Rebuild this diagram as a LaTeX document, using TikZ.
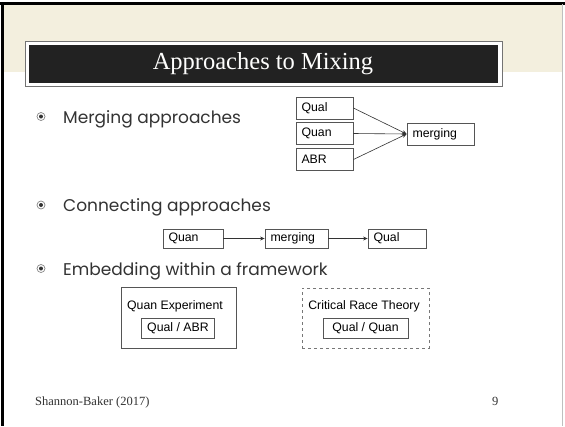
\documentclass[tikz,border=0pt]{standalone}
\usepackage{fontspec}
\setmainfont{Liberation Serif}
\newfontfamily\boxfont{Liberation Sans}
\newfontfamily\bulletfont{Poppins}
\usetikzlibrary{arrows.meta}
\definecolor{cream}{HTML}{F3EFDE}
\definecolor{titledark}{HTML}{222222}
\definecolor{boxline}{HTML}{555555}
\definecolor{bodytext}{HTML}{333333}
\tikzset{
  sbox/.style={draw=boxline, line width=0.8pt, minimum height=#1, inner xsep=5.5pt, inner ysep=0pt, font=\boxfont\fontsize{12.3}{14}\selectfont},
  sbox/.default=22pt,
  conn/.style={draw=black!80, line width=0.6pt, -{Stealth[length=4.5pt,width=4pt]}},
  bullettext/.style={anchor=base west, inner sep=0pt, text=bodytext, font=\bulletfont\fontsize{17}{20}\selectfont},
  bulletmark/.style={circle, draw=bodytext!60, line width=0.7pt, minimum size=8pt, inner sep=0pt},
  bulletdot/.style={circle, fill=bodytext, minimum size=4pt, inner sep=0pt},
  footer/.style={anchor=base west, inner sep=0pt, text=bodytext, font=\fontsize{12.5}{14}\selectfont}
}
\begin{document}
\begin{tikzpicture}[x=1pt,y=-1pt]
\useasboundingbox (0,0) rectangle (565,426);
% slide background
\fill[white] (0,0) rectangle (565,426);
\fill[cream] (3,4) rectangle (563,72);
\fill[black] (0,2) rectangle (565,4.5);
\fill[black] (1,2) rectangle (3.5,426);
\draw[gray!50, line width=0.8pt] (562.5,4) -- (562.5,426);
% title
\draw[gray!90!black, line width=1pt, fill=white] (25.5,41.5) rectangle (502,86);
\fill[titledark] (29,45) rectangle (497.5,83);
\node[text=white!95!cream, font=\fontsize{24.5}{27}\selectfont, inner sep=0pt] (title) at (263,63.5) {Approaches to Mixing};
% bullets
\node[bulletmark] (b1) at (41,116.5) {};
\node[bulletdot] at (b1) {};
\node[bullettext] (t1) at (63,123) {Merging approaches};
\node[bulletmark] (b2) at (41,205) {};
\node[bulletdot] at (b2) {};
\node[bullettext] (t2) at (63,211.5) {Connecting approaches};
\node[bulletmark] (b3) at (41,268.5) {};
\node[bulletdot] at (b3) {};
\node[bullettext] (t3) at (63,275) {Embedding within a framework};
% merging diagram
\node[sbox, minimum width=57pt, text width=46pt, align=left] (qual1) at (324.5,108) {Qual};
\node[sbox, minimum width=57pt, text width=46pt, align=left] (quan1) at (324.5,133.5) {Quan};
\node[sbox, minimum width=57pt, text width=46pt, align=left] (abr1) at (324.5,159.5) {ABR};
\node[sbox, minimum width=67pt, text width=56pt, align=left] (merge1) at (440.5,134) {merging};
\draw[conn] (qual1.east) -- (merge1.west);
\draw[conn] (quan1.east) -- (merge1.west);
\draw[conn] (abr1.east) -- (merge1.west);
% connecting diagram
\node[sbox=19pt, minimum width=60pt, text width=49pt, align=left] (quan2) at (193,238.5) {Quan};
\node[sbox=19pt, minimum width=63pt, text width=52pt, align=left] (merge2) at (296.5,238.5) {merging};
\node[sbox=19pt, minimum width=58pt, text width=47pt, align=left] (qual2) at (397,238.5) {Qual};
\draw[conn] (quan2) -- (merge2);
\draw[conn] (merge2) -- (qual2);
% embedding diagram
\node[sbox=61pt, minimum width=115pt] (frame1) at (178.5,317.5) {};
\node[inner sep=0pt, font=\boxfont\fontsize{12.3}{14}\selectfont] (lab1) at (175,306.5) {Quan Experiment};
\node[sbox=20pt, minimum width=64pt] (in1) at (178,328) {Qual / ABR};
\node[sbox=60pt, minimum width=127pt, dashed, draw=boxline!80] (frame2) at (365.5,318) {};
\node[inner sep=0pt, font=\boxfont\fontsize{12.3}{14}\selectfont] (lab2) at (364,306.5) {Critical Race Theory};
\node[sbox=20pt, minimum width=85pt] (in2) at (365.5,328) {Qual / Quan};
% footer
\node[footer] (foot) at (35,405) {Shannon-Baker (2017)};
\node[footer] (page) at (492,405) {9};
\end{tikzpicture}
\end{document}
